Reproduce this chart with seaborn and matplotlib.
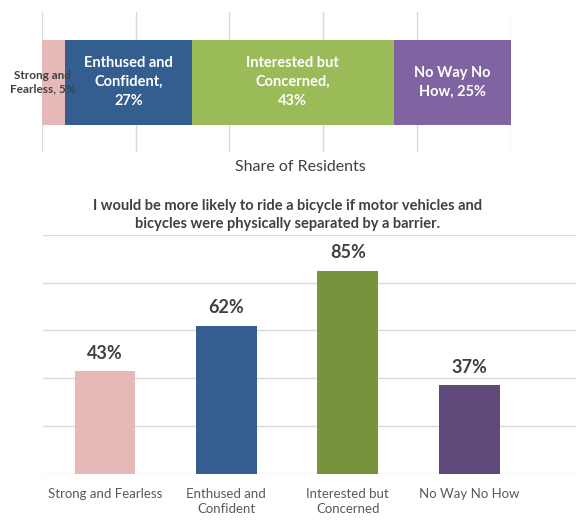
### Bike survey chart: share of residents by type, and support for separated lanes

import numpy as np
import pandas as pd
import seaborn as sns
import matplotlib.pyplot as plt

# 1. The data
groups = ['Strong and Fearless', 'Enthused and Confident', 'Interested but Concerned', 'No Way No How']
share = [5, 27, 43, 25]
share_labels = ['Strong and\nFearless, 5%', 'Enthused and\nConfident,\n27%',
                'Interested but\nConcerned,\n43%', 'No Way No\nHow, 25%']
likely = [43, 62, 85, 37]
tick_labels = ['Strong and Fearless', 'Enthused and\nConfident', 'Interested but\nConcerned', 'No Way No How']

top_colors = ['#E6B9B8', '#335E8F', '#9BBB59', '#8064A2']
bottom_colors = ['#E6B9B8', '#335E8F', '#77933C', '#5F497A']

sns.set_style('white')
plt.rcParams['font.family'] = ['Lato', 'DejaVu Sans']

fig = plt.figure(figsize=(5.76, 5.2), dpi=100)

# 2. Top stacked bar (drawn as overlapping cumulative bars, biggest first)
ax1 = fig.add_axes([0.0724, 0.7077, 0.815, 0.269])
cum = np.cumsum(share)
for i in reversed(range(len(groups))):
    sns.barplot(x=[cum[i]], y=['all'], color=top_colors[i], width=0.607,
                orient='h', ax=ax1, saturation=1, edgecolor='none')
ax1.set_xlim(0, 100)
ax1.set_ylim(0.5, -0.5)
ax1.set_xticks([0, 20, 40, 60, 80, 100])
ax1.set_axisbelow(True)
ax1.grid(axis='x', color='#D9D9D9', linewidth=1)
ax1.set_xticklabels([])
ax1.set_yticks([])
ax1.set_ylabel('')
ax1.set_xlabel('')
for s in ax1.spines.values():
    s.set_visible(False)

starts = cum - np.array(share)
for i, lab in enumerate(share_labels):
    if i == 0:
        # the small group label spills over the left edge, like in the original
        ax1.text(0.2, 0.0, lab, ha='center', va='center', fontsize=8.5,
                 color='#404040', fontweight='bold', linespacing=1.3)
    else:
        ax1.text(starts[i] + share[i] / 2, 0.0, lab, ha='center', va='center',
                 fontsize=10.5, color='white', fontweight='bold', linespacing=1.45)

fig.text(0.521, 0.679, 'Share of Residents', ha='center', va='center',
         fontsize=11.5, color='#404040')

# 3. Bottom bar chart
df = pd.DataFrame({'group': groups, 'pct': likely})
ax2 = fig.add_axes([0.0747, 0.0885, 0.9253, 0.46])
sns.barplot(data=df, x='group', y='pct', hue='group', palette=bottom_colors,
            width=0.5, saturation=1, legend=False, ax=ax2, edgecolor='none')
ax2.set_ylim(0, 100)
ax2.set_xlim(-0.51, 3.88)
ax2.set_yticks([0, 20, 40, 60, 80, 100])
ax2.set_yticklabels([])
ax2.set_axisbelow(True)
ax2.grid(axis='y', color='#D9D9D9', linewidth=1)
ax2.set_xlabel('')
ax2.set_ylabel('')
ax2.set_xticks(range(len(groups)))
ax2.set_xticklabels(tick_labels, fontsize=9.5, color='#595959', linespacing=1.3, va='top')
ax2.tick_params(axis='both', length=0, pad=10)
for s in ax2.spines.values():
    s.set_visible(False)

for i, v in enumerate(likely):
    ax2.annotate(f'{v}%', (i, v), xytext=(0, 13), textcoords='offset points',
                 ha='center', va='center', fontsize=13, fontweight='bold', color='#404040')

fig.text(0.499, 0.5865,
         'I would be more likely to ride a bicycle if motor vehicles and\nbicycles were physically separated by a barrier.',
         ha='center', va='center', fontsize=10.5, fontweight='bold', color='#404040',
         linespacing=1.35,
         bbox=dict(facecolor='white', edgecolor='none', pad=2))

fig.savefig('out.png', dpi=100)
